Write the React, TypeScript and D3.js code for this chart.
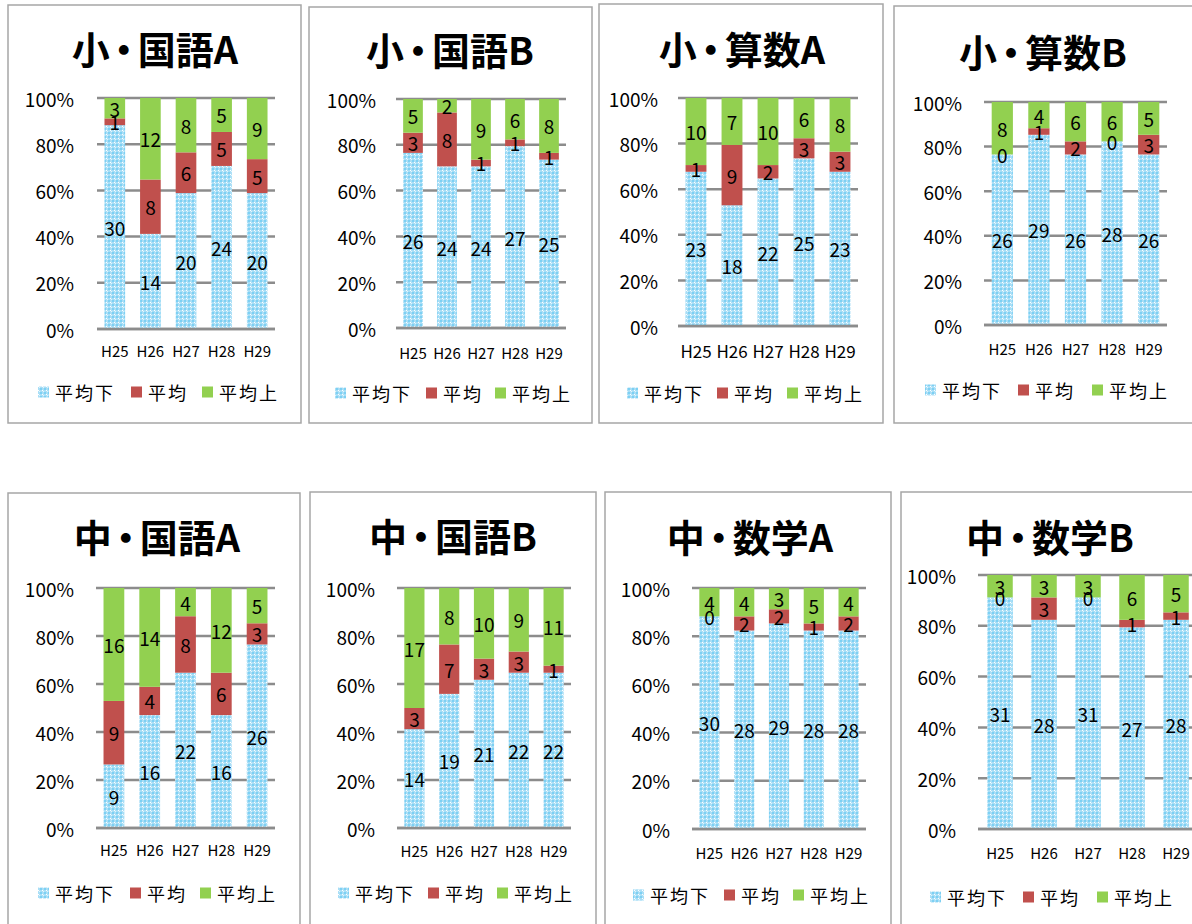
// Stacked 100% bar charts: distribution of scores by year (H25-H29)
import React, { useEffect, useRef } from 'react';
import * as d3 from 'd3';

const years = ['H25', 'H26', 'H27', 'H28', 'H29'];
const seriesNames = ['平均下', '平均', '平均上'];
const titles = ['小・国語A', '小・国語B', '小・算数A', '小・算数B', '中・国語A', '中・国語B', '中・数学A', '中・数学B'];

// counts per panel, one row per chart
const belowAvg = [
  [30, 14, 20, 24, 20],
  [26, 24, 24, 27, 25],
  [23, 18, 22, 25, 23],
  [26, 29, 26, 28, 26],
  [9, 16, 22, 16, 26],
  [14, 19, 21, 22, 22],
  [30, 28, 29, 28, 28],
  [31, 28, 31, 27, 28],
];
const atAvg = [
  [1, 8, 6, 5, 5],
  [3, 8, 1, 1, 1],
  [1, 9, 2, 3, 3],
  [0, 1, 2, 0, 3],
  [9, 4, 8, 6, 3],
  [3, 7, 3, 3, 1],
  [0, 2, 2, 1, 2],
  [0, 3, 0, 1, 1],
];
const aboveAvg = [
  [3, 12, 8, 5, 9],
  [5, 2, 9, 6, 8],
  [10, 7, 10, 6, 8],
  [8, 4, 6, 6, 5],
  [16, 14, 4, 12, 5],
  [17, 8, 10, 9, 11],
  [4, 4, 3, 5, 4],
  [3, 3, 3, 6, 5],
];
const yTicks = [0, 0.2, 0.4, 0.6, 0.8, 1];

// panel placement
const layouts = [
  { frame: [8, 5, 301, 423], plot: [97, 98, 275, 329], titleX: 155, titleY: 47, yLabX: 74, xLabY: 350, xFont: 15, legY: 392, leg: [38, 131, 202] },
  { frame: [309, 7, 592, 423], plot: [396, 99, 566, 328], titleX: 450, titleY: 48, yLabX: 376, xLabY: 352, xFont: 15, legY: 393, leg: [335, 426, 495] },
  { frame: [599, 4, 883, 423], plot: [678, 98, 858, 326], titleX: 742, titleY: 47, yLabX: 658, xLabY: 350, xFont: 17, legY: 393, leg: [627, 717, 787] },
  { frame: [894, 6, 1200, 423], plot: [984, 102, 1167, 325], titleX: 1043, titleY: 50, yLabX: 962, xLabY: 348, xFont: 15, legY: 390, leg: [925, 1018, 1092] },
  { frame: [8, 493, 300, 940], plot: [96, 588, 275, 828], titleX: 157, titleY: 535, yLabX: 74, xLabY: 849, xFont: 15, legY: 893, leg: [38, 130, 200] },
  { frame: [310, 492, 596, 940], plot: [397, 588, 571, 828], titleX: 453, titleY: 534, yLabX: 375, xLabY: 850, xFont: 15, legY: 893, leg: [338, 428, 497] },
  { frame: [605, 492, 891, 940], plot: [692, 588, 866, 829], titleX: 750, titleY: 535, yLabX: 670, xLabY: 852, xFont: 15, legY: 895, leg: [633, 724, 793] },
  { frame: [901, 492, 1200, 940], plot: [978, 575, 1198, 829], titleX: 1050, titleY: 535, yLabX: 956, xLabY: 852, xFont: 15, legY: 897, leg: [930, 1023, 1097] },
];

const FONT = '"Noto Sans CJK JP", "Noto Sans", sans-serif';
const colors = ['url(#dots)', '#C0504D', '#92D050'];

const App: React.FC = () => {
  const ref = useRef<SVGSVGElement>(null);

  useEffect(() => {
    if (!ref.current) return;
    const svg = d3.select(ref.current);
    svg.selectAll('*').remove();

    const width = 1192;
    const height = 924;
    svg.attr('width', width).attr('height', height);

    svg.append('rect').attr('width', width).attr('height', height).attr('fill', '#fff');

    // checker pattern for the light blue series
    const pat = svg.append('defs').append('pattern')
      .attr('id', 'dots')
      .attr('patternUnits', 'userSpaceOnUse')
      .attr('width', 4)
      .attr('height', 4);
    pat.append('rect').attr('width', 4).attr('height', 4).attr('fill', '#a9def6');
    pat.append('rect').attr('x', 0).attr('y', 0).attr('width', 2).attr('height', 2).attr('fill', '#7dd0f3');
    pat.append('rect').attr('x', 2).attr('y', 2).attr('width', 1).attr('height', 1).attr('fill', '#ffffff');
    pat.append('rect').attr('x', 3).attr('y', 3).attr('width', 1).attr('height', 1).attr('fill', '#e2f5fc');

    titles.forEach((title, pi) => {
      const L = layouts[pi];
      const [fx1, fy1, fx2, fy2] = L.frame;
      const [px1, py1, px2, py2] = L.plot;
      const g = svg.append('g');

      g.append('rect')
        .attr('x', fx1).attr('y', fy1)
        .attr('width', fx2 - fx1).attr('height', fy2 - fy1)
        .attr('fill', '#fff')
        .attr('stroke', '#a6a6a6')
        .attr('stroke-width', 1.5);

      // title: tighten the full-width middle dot
      const [head, tail] = title.split('・');
      const t = g.append('text')
        .attr('x', L.titleX)
        .attr('y', L.titleY)
        .attr('text-anchor', 'middle')
        .attr('dominant-baseline', 'central')
        .style('font-family', FONT)
        .style('font-size', '38px')
        .style('font-weight', 'bold');
      t.append('tspan').text(head);
      t.append('tspan').attr('dx', -5).text('・');
      t.append('tspan').attr('dx', -5).text(tail);

      const x = d3.scaleBand<string>()
        .domain(years)
        .range([px1, px2])
        .paddingInner(0.42)
        .paddingOuter(0.21);
      const y = d3.scaleLinear().domain([0, 1]).range([py2, py1]);

      // gridlines
      g.selectAll('.grid')
        .data(yTicks)
        .enter()
        .append('line')
        .attr('x1', px1).attr('x2', px2)
        .attr('y1', d => y(d)).attr('y2', d => y(d))
        .attr('stroke', '#8c8c8c')
        .attr('stroke-width', 2.5);

      g.selectAll('.ylab')
        .data(yTicks)
        .enter()
        .append('text')
        .attr('x', L.yLabX)
        .attr('y', d => y(d))
        .attr('text-anchor', 'end')
        .attr('dominant-baseline', 'central')
        .style('font-family', FONT)
        .style('font-size', '19px')
        .text(d => `${Math.round(d * 100)}%`);

      g.selectAll('.xlab')
        .data(years)
        .enter()
        .append('text')
        .attr('x', d => (x(d) as number) + x.bandwidth() / 2)
        .attr('y', L.xLabY)
        .attr('text-anchor', 'middle')
        .attr('dominant-baseline', 'central')
        .style('font-family', FONT)
        .style('font-size', `${L.xFont}px`)
        .text(d => d);

      const rows = years.map((yr, i) => ({
        yr,
        v: [belowAvg[pi][i], atAvg[pi][i], aboveAvg[pi][i]],
      }));

      rows.forEach(r => {
        const total = d3.sum(r.v);
        let acc = 0;
        r.v.forEach((val, si) => {
          const y0 = acc / total;
          const y1 = (acc + val) / total;
          acc += val;
          g.append('rect')
            .attr('x', x(r.yr) as number)
            .attr('width', x.bandwidth())
            .attr('y', y(y1))
            .attr('height', y(y0) - y(y1))
            .attr('fill', colors[si]);
        });
        acc = 0;
        r.v.forEach(val => {
          const mid = (acc + val / 2) / total;
          acc += val;
          g.append('text')
            .attr('x', (x(r.yr) as number) + x.bandwidth() / 2)
            .attr('y', y(mid))
            .attr('text-anchor', 'middle')
            .attr('dominant-baseline', 'central')
            .style('font-family', FONT)
            .style('font-size', '19px')
            .text(val);
        });
      });

      // baseline redrawn over bars
      g.append('line')
        .attr('x1', px1).attr('x2', px2)
        .attr('y1', y(0)).attr('y2', y(0))
        .attr('stroke', '#8c8c8c')
        .attr('stroke-width', 2.5);

      // legend
      seriesNames.forEach((name, si) => {
        const lx = L.leg[si];
        g.append('rect')
          .attr('x', lx)
          .attr('y', L.legY - 5.5)
          .attr('width', 11)
          .attr('height', 11)
          .attr('fill', colors[si]);
        g.append('text')
          .attr('x', lx + 17)
          .attr('y', L.legY)
          .attr('dominant-baseline', 'central')
          .style('font-family', FONT)
          .style('font-size', '18px')
          .style('letter-spacing', '2px')
          .text(name);
      });
    });
  }, []);

  return (
    <div style={{ position: 'absolute', left: 0, top: 0 }}>
      <svg ref={ref} style={{ display: 'block' }}></svg>
    </div>
  );
};

export default App;
